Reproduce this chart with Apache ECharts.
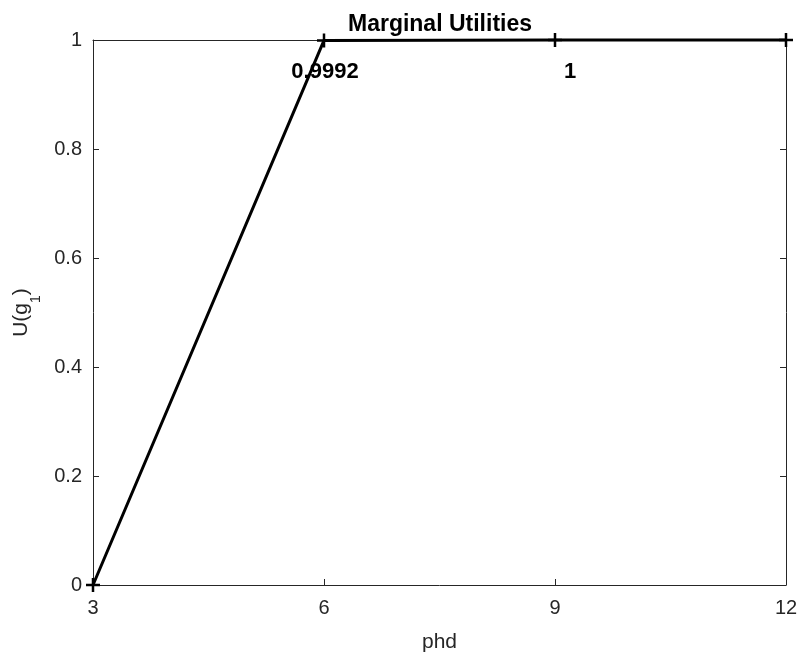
<!DOCTYPE html>
<html>
<head>
<meta charset="utf-8">
<script src="https://cdn.jsdelivr.net/npm/echarts@6/dist/echarts.min.js"></script>
<style>html,body{margin:0;padding:0;background:#fff;}#c{width:799px;height:652px;}</style>
</head>
<body>
<div id="c"></div>
<script>
const xValues = [3, 6, 9, 12];
const yValues = [0, 0.9992, 1, 1];
const pointLabels = ['', '0.9992', '1', ''];
const xTicks = [3, 6, 9, 12];
const yTicks = [0, 0.2, 0.4, 0.6, 0.8, 1];
const titleText = 'Marginal Utilities';
const xName = 'phd';

const labelOffsets = [[0,0],[1,0],[15,0],[0,0]];
const font = 'Liberation Sans, Arial, sans-serif';
const seriesData = xValues.map((x, i) => ({
  value: [x, yValues[i]],
  label: pointLabels[i] ? {
    show: true, formatter: pointLabels[i], position: 'bottom', distance: 11,
    offset: labelOffsets[i], fontWeight: 'bold', fontSize: 22, color: '#000',
    fontFamily: font
  } : { show: false }
}));

const axisColor = '#262626';
const chart = echarts.init(document.getElementById('c'), null, { renderer: 'canvas' });
chart.setOption({
  animation: false,
  backgroundColor: '#fff',
  title: {
    text: titleText, left: 435, top: 8, textAlign: 'center',
    textStyle: { fontSize: 23, fontWeight: 'bold', color: '#000', fontFamily: font }
  },
  grid: { left: 93, right: 13, top: 40, bottom: 67, containLabel: false, outerBoundsMode: 'none' },
  xAxis: [{
    type: 'value', min: 3, max: 12, interval: 3, position: 'bottom',
    name: xName, nameLocation: 'middle', nameGap: 47,
    nameTextStyle: { fontSize: 21, color: axisColor, fontFamily: font },
    axisLine: { show: true, lineStyle: { color: axisColor, width: 1 } },
    axisTick: { show: true, inside: true, length: 6, lineStyle: { color: axisColor } },
    axisLabel: { fontSize: 20, color: axisColor, margin: 13, fontFamily: font },
    splitLine: { show: false }
  }, {
    type: 'value', min: 3, max: 12, interval: 3, position: 'top',
    axisLine: { show: true, onZero: false, lineStyle: { color: axisColor, width: 1 } },
    axisTick: { show: true, inside: true, length: 6, lineStyle: { color: axisColor } },
    axisLabel: { show: false }, splitLine: { show: false }
  }],
  yAxis: [{
    type: 'value', min: 0, max: 1, interval: 0.2, position: 'left',
    name: '{a|U(g}{s|1}{a|)}', nameLocation: 'middle', nameGap: 48, nameRotate: 90,
    nameTextStyle: {
      color: axisColor, fontFamily: font,
      rich: {
        a: { fontSize: 21, lineHeight: 21, color: axisColor, fontFamily: font, padding: [0, 0, 12, 0] },
        s: { fontSize: 14, lineHeight: 14, color: axisColor, fontFamily: font, padding: [19, 0, 0, 0] }
      }
    },
    axisLine: { show: true, lineStyle: { color: axisColor, width: 1 } },
    axisTick: { show: true, inside: true, length: 6, lineStyle: { color: axisColor } },
    axisLabel: { fontSize: 20, color: axisColor, margin: 11, fontFamily: font,
      formatter: v => String(Math.round(v * 10) / 10) },
    splitLine: { show: false }
  }, {
    type: 'value', min: 0, max: 1, interval: 0.2, position: 'right',
    axisLine: { show: true, lineStyle: { color: axisColor, width: 1 } },
    axisTick: { show: true, inside: true, length: 6, lineStyle: { color: axisColor } },
    axisLabel: { show: false }, splitLine: { show: false }
  }],
  series: [{
    type: 'line', xAxisIndex: 0, yAxisIndex: 0,
    data: seriesData,
    lineStyle: { color: '#000', width: 3 },
    symbol: 'path://M0,-10 L0,10 M-10,0 L10,0',
    symbolSize: 14,
    itemStyle: { color: 'none', borderColor: '#000', borderWidth: 2.5 },
    showAllSymbol: true,
    clip: false,
    z: 5
  }]
});
</script>
</body>
</html>
